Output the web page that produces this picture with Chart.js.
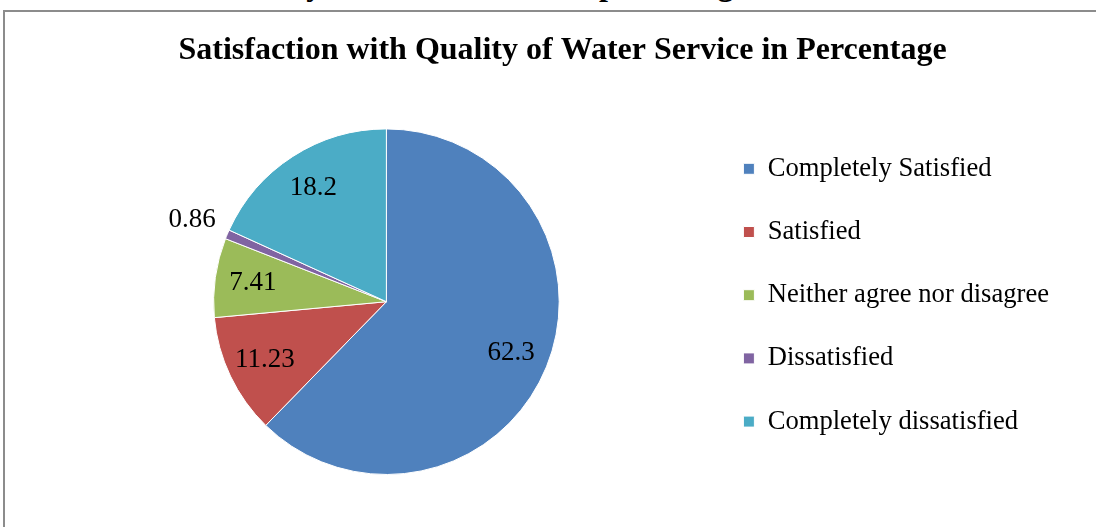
<!DOCTYPE html>
<html>
<head>
<meta charset="utf-8">
<script src="https://cdn.jsdelivr.net/npm/chart.js@4"></script>
<style>
  html, body { margin: 0; padding: 0; background: #fff; overflow: hidden; }
  #frame {
    position: absolute; left: 3px; top: 10px; width: 1200px; height: 600px;
    border: 2px solid #8c8c8c;
  }
  #caption {
    position: absolute; left: 219px; top: -32px; white-space: nowrap;
    font: bold 32px 'Liberation Serif', serif; line-height: 32px; color: #000;
  }
  #wrap { position: absolute; left: 5px; top: 12px; width: 1105px; height: 515px; }
</style>
</head>
<body>
<div id="caption">Quality of Water Service in percentage</div>
<div id="frame"></div>
<div id="wrap"><canvas id="pie-chart"></canvas></div>
<script>
const categories = ['Completely Satisfied', 'Satisfied', 'Neither agree nor disagree', 'Dissatisfied', 'Completely dissatisfied'];
const percentages = [62.3, 11.23, 7.41, 0.86, 18.2];
const sliceColors = ['#4F81BD', '#C0504D', '#9BBB59', '#8064A2', '#4BACC6'];

document.addEventListener('DOMContentLoaded', function () {
    // value labels inside each slice, small slices go outside
    const sliceLabels = {
        id: 'sliceLabels',
        afterDatasetsDraw(chart) {
            const ctx = chart.ctx;
            const meta = chart.getDatasetMeta(0);
            ctx.save();
            ctx.font = "27px 'Liberation Serif'";
            ctx.fillStyle = '#000';
            ctx.textAlign = 'center';
            ctx.textBaseline = 'middle';
            meta.data.forEach(function (arc, i) {
                const p = arc.getProps(['x', 'y', 'startAngle', 'endAngle', 'outerRadius'], true);
                const mid = (p.startAngle + p.endAngle) / 2;
                const r = percentages[i] < 2 ? p.outerRadius * 1.22 : p.outerRadius * 0.78;
                ctx.fillText(String(percentages[i]), p.x + Math.cos(mid) * r, p.y + Math.sin(mid) * r);
            });
            ctx.restore();
        }
    };

    const ctx = document.getElementById('pie-chart').getContext('2d');
    new Chart(ctx, {
        type: 'pie',
        data: {
            labels: categories,
            datasets: [{
                data: percentages,
                backgroundColor: sliceColors,
                borderColor: '#ffffff',
                borderWidth: 1
            }]
        },
        options: {
            responsive: true,
            maintainAspectRatio: false,
            animation: false,
            layout: { padding: { left: 61, right: 51, top: 0, bottom: 52 } },
            plugins: {
                title: {
                    display: true,
                    text: 'Satisfaction with Quality of Water Service in Percentage',
                    color: '#000',
                    font: { family: "'Liberation Serif'", size: 32, weight: 'bold' },
                    padding: { top: 20, bottom: 58 }
                },
                legend: {
                    position: 'right',
                    title: { display: true, text: '', font: { size: 12 }, padding: { top: 89, bottom: 0 } },
                    labels: {
                        boxWidth: 11,
                        boxHeight: 11,
                        padding: 36.6,
                        color: '#000',
                        font: { family: "'Liberation Serif'", size: 26.6 }
                    }
                },
                tooltip: { enabled: false }
            }
        },
        plugins: [sliceLabels]
    });
});
</script>
</body>
</html>
